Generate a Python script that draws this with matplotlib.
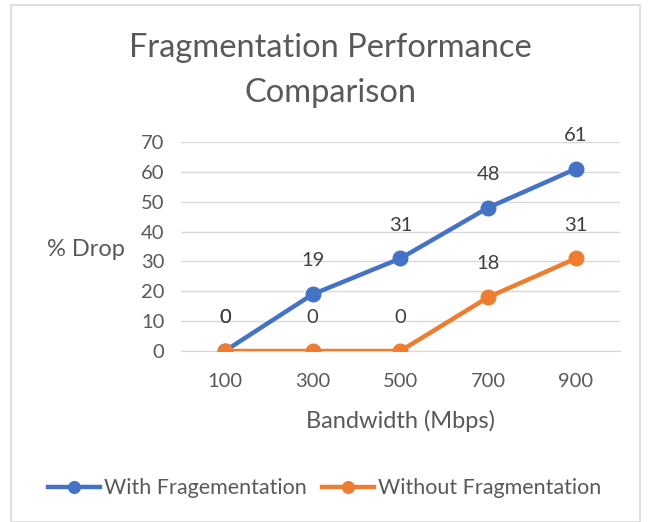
import numpy as np
import matplotlib.pyplot as plt
from matplotlib.patches import Rectangle

plt.rcParams['font.family'] = ['Lato', 'DejaVu Sans']

bandwidth = ['100', '300', '500', '700', '900']
with_frag = [0, 19, 31, 48, 61]
without_frag = [0, 0, 0, 18, 31]

blue = '#4472C4'
orange = '#ED7D31'
grey_txt = '#595959'

fig = plt.figure(figsize=(6.5, 5.22), dpi=100)
fig.patches.append(Rectangle((0.017, 0.0), 0.967, 0.99, transform=fig.transFigure,
                             fill=False, edgecolor='#D9D9D9', linewidth=1.2))

ax = fig.add_axes([0.2785, 0.3276, 0.675, 0.4004])
x = np.arange(len(bandwidth))

ax.plot(x, with_frag, color=blue, lw=3.2, marker='o', ms=10.5, label='With Fragementation', zorder=3)
ax.plot(x, without_frag, color=orange, lw=3.2, marker='o', ms=10.5, label='Without Fragmentation', zorder=3)

for xi, v in zip(x, with_frag):
    ax.annotate(str(v), (xi, v), xytext=(0, 24), textcoords='offset points',
                ha='center', va='center', fontsize=14.5, color='#404040')
for xi, v in zip(x, without_frag):
    ax.annotate(str(v), (xi, v), xytext=(0, 24), textcoords='offset points',
                ha='center', va='center', fontsize=14.5, color='#404040')

ax.set_xlim(-0.5, 4.5)
ax.set_ylim(0, 70)
ax.set_yticks(range(0, 71, 10))
ax.set_xticks(x)
ax.set_xticklabels(bandwidth)
ax.grid(axis='y', color='#D9D9D9', lw=1)
ax.set_axisbelow(True)
for s in ['top', 'right', 'left']:
    ax.spines[s].set_visible(False)
ax.spines['bottom'].set_color('#D9D9D9')
ax.tick_params(length=0, labelsize=14.5, labelcolor=grey_txt)
ax.tick_params(axis='x', pad=16)
ax.tick_params(axis='y', pad=12)

ax.set_xlabel('Bandwidth (Mbps)', fontsize=17, color=grey_txt, labelpad=14)
fig.text(0.132, 0.522, '% Drop', fontsize=17, color=grey_txt, ha='center', va='center')

fig.text(0.508, 0.908, 'Fragmentation Performance', fontsize=23.5, color=grey_txt, ha='center', va='center')
fig.text(0.508, 0.822, 'Comparison', fontsize=23.5, color=grey_txt, ha='center', va='center')

fig.legend(loc='center', bbox_to_anchor=(0.5, 0.065), ncol=2, frameon=False,
           fontsize=15.5, labelcolor=grey_txt, handlelength=2.4, handletextpad=0.2,
           columnspacing=0.7, markerscale=0.8)

fig.savefig('out.png', dpi=100)
